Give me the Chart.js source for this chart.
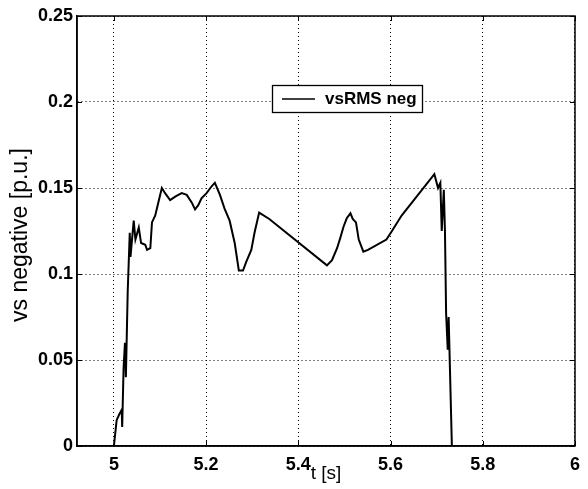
<!DOCTYPE html>
<html>
<head>
<meta charset="utf-8">
<script src="https://cdn.jsdelivr.net/npm/chart.js@4.4.1/dist/chart.umd.min.js"></script>
<style>
  html, body { margin: 0; padding: 0; background: #fff; }
  #wrap { width: 588px; height: 489px; }
</style>
</head>
<body>
<div id="wrap"><canvas id="chart"></canvas></div>
<script>
// values
const tValues = [4.92, 5.0, 5.006, 5.011, 5.017, 5.018, 5.021, 5.024, 5.026, 5.030,
  5.0344, 5.036, 5.043, 5.0467, 5.054, 5.059, 5.068, 5.072, 5.079, 5.0826,
  5.0897, 5.0968, 5.104, 5.111, 5.122, 5.133, 5.147, 5.158, 5.169, 5.176,
  5.183, 5.190, 5.201, 5.212, 5.219, 5.230, 5.240, 5.251, 5.262, 5.271,
  5.280, 5.287, 5.298, 5.305, 5.315, 5.337, 5.462, 5.473, 5.484, 5.491,
  5.498, 5.505, 5.513, 5.518, 5.525, 5.531, 5.541, 5.551, 5.591, 5.602,
  5.624, 5.695, 5.703, 5.708, 5.711, 5.7155, 5.718, 5.7205, 5.724, 5.726,
  5.733, 6.0];
const vsNeg = [0, 0, 0.015, 0.018, 0.021, 0.011, 0.045, 0.06, 0.04, 0.09,
  0.124, 0.11, 0.131, 0.12, 0.127, 0.118, 0.117, 0.114, 0.115, 0.130,
  0.134, 0.142, 0.150, 0.147, 0.143, 0.145, 0.147, 0.146, 0.1415, 0.1376,
  0.140, 0.144, 0.147, 0.151, 0.153, 0.146, 0.138, 0.131, 0.118, 0.102,
  0.102, 0.107, 0.114, 0.124, 0.1357, 0.132, 0.105, 0.108, 0.115, 0.121,
  0.1275, 0.1324, 0.1353, 0.132, 0.130, 0.120, 0.113, 0.114, 0.120, 0.1246,
  0.134, 0.158, 0.150, 0.153, 0.125, 0.149, 0.125, 0.077, 0.056, 0.075,
  0, 0];
const xTicks = [5, 5.2, 5.4, 5.6, 5.8, 6];
const yTicks = [0, 0.05, 0.1, 0.15, 0.2, 0.25];
const seriesName = "vsRMS neg";
const xTitle = "t [s]";
const yTitle = "vs negative [p.u.]";

const FONT = '"Liberation Sans", Arial, sans-serif';

// box, inward ticks, legend and axis titles drawn MATLAB style
const matlabFrame = {
  id: "matlabFrame",
  afterDraw(chart) {
    const { ctx, chartArea: a, scales } = chart;
    ctx.save();
    ctx.strokeStyle = "#000";
    ctx.lineWidth = 1.5;
    ctx.strokeRect(a.left, a.top, a.right - a.left, a.bottom - a.top);

    ctx.lineWidth = 1;
    ctx.beginPath();
    xTicks.forEach(v => {
      const x = Math.round(scales.x.getPixelForValue(v)) + 0.5;
      ctx.moveTo(x, a.bottom); ctx.lineTo(x, a.bottom - 5);
      ctx.moveTo(x, a.top); ctx.lineTo(x, a.top + 5);
    });
    yTicks.forEach(v => {
      const y = Math.round(scales.y.getPixelForValue(v)) + 0.5;
      ctx.moveTo(a.left, y); ctx.lineTo(a.left + 5, y);
      ctx.moveTo(a.right, y); ctx.lineTo(a.right - 5, y);
    });
    ctx.stroke();

    // legend
    ctx.fillStyle = "#fff";
    ctx.fillRect(272, 85, 150, 27);
    ctx.lineWidth = 1.3;
    ctx.strokeRect(272.5, 85.5, 150, 27);
    ctx.lineWidth = 1.5;
    ctx.beginPath();
    ctx.moveTo(282, 99); ctx.lineTo(315, 99);
    ctx.stroke();
    ctx.fillStyle = "#000";
    ctx.font = "bold 17px " + FONT;
    ctx.textAlign = "left";
    ctx.textBaseline = "middle";
    ctx.fillText(seriesName, 325, 99.5);

    // axis titles
    ctx.font = "19px " + FONT;
    ctx.textAlign = "center";
    ctx.fillText(xTitle, 326, 474);
    ctx.save();
    ctx.translate(21, 235);
    ctx.rotate(-Math.PI / 2);
    ctx.font = "23px " + FONT;
    ctx.fillText(yTitle, 0, 0);
    ctx.restore();
    ctx.restore();
  }
};

new Chart(document.getElementById("chart"), {
  type: "line",
  data: {
    datasets: [{
      label: seriesName,
      data: tValues.map((t, i) => ({ x: t, y: vsNeg[i] })),
      borderColor: "#000",
      borderWidth: 2,
      pointRadius: 0,
      tension: 0,
      fill: false
    }]
  },
  options: {
    responsive: true,
    maintainAspectRatio: false,
    animation: false,
    layout: { padding: { top: 16, right: 11, left: 0, bottom: 0 } },
    plugins: { legend: { display: false }, tooltip: { enabled: false } },
    scales: {
      x: {
        type: "linear",
        min: 4.92,
        max: 6,
        afterBuildTicks: s => { s.ticks = xTicks.map(v => ({ value: v })); },
        afterFit: s => { s.height = 43; },
        ticks: {
          color: "#000",
          font: { family: FONT, size: 18, weight: "bold" },
          padding: 8,
          maxRotation: 0,
          callback: v => String(v)
        },
        grid: { color: "#000", lineWidth: 1, drawTicks: false },
        border: { display: true, color: "#000", width: 1.5, dash: [1, 3] }
      },
      y: {
        type: "linear",
        min: 0,
        max: 0.25,
        afterBuildTicks: s => { s.ticks = yTicks.map(v => ({ value: v })); },
        afterFit: s => { s.width = 77; },
        ticks: {
          color: "#000",
          font: { family: FONT, size: 18, weight: "bold" },
          padding: 4,
          callback: v => String(v)
        },
        grid: { color: "#000", lineWidth: 1, drawTicks: false },
        border: { display: true, color: "#000", width: 1.5, dash: [1, 3] }
      }
    }
  },
  plugins: [matlabFrame]
});
</script>
</body>
</html>
